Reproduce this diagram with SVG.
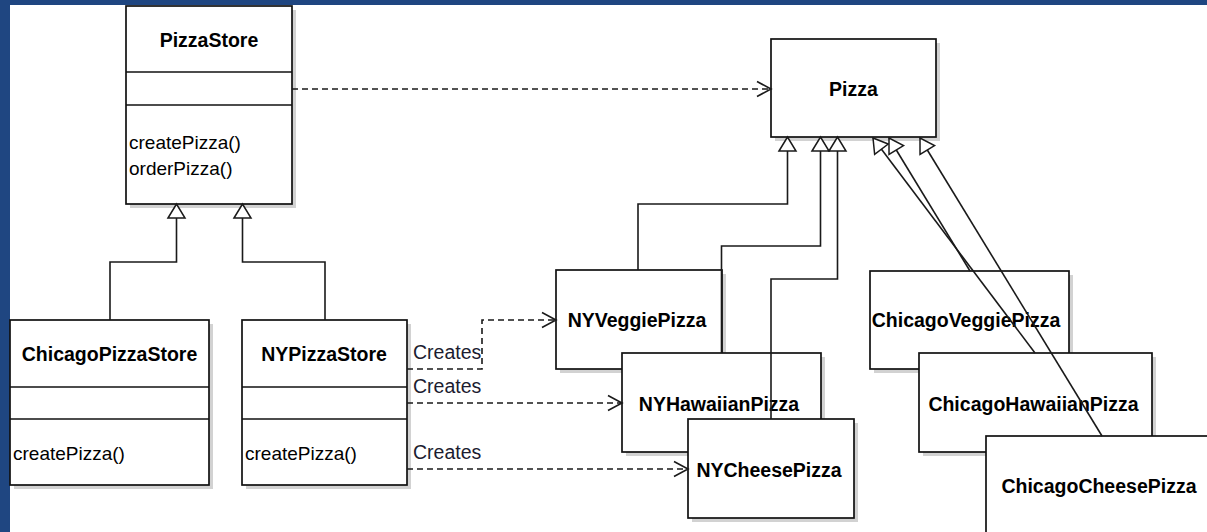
<svg xmlns="http://www.w3.org/2000/svg" width="1207" height="532" viewBox="0 0 1207 532">
  <defs>
    <style>
      .frame{fill:#1f4681}
      .shadow{fill:#d2d2d2}
      .box{fill:#fff;stroke:#111;stroke-width:1.7}
      .sep{stroke:#111;stroke-width:1.7}
      .title{font-family:"Liberation Sans",Arial,sans-serif;font-weight:bold;font-size:19.5px;fill:#000;text-anchor:middle}
      .member{font-family:"Liberation Sans",Arial,sans-serif;font-size:19px;fill:#000}
      .label{font-family:"Liberation Sans",Arial,sans-serif;font-size:19.5px;fill:#1c1c30}
      .edge{fill:none;stroke:#1a1a1a;stroke-width:1.6}
      .dep{stroke-dasharray:6 4}
    </style>
    <!-- hollow triangle for generalization -->
    <marker id="gen" markerUnits="userSpaceOnUse" viewBox="-1 -1 16 19" markerWidth="16" markerHeight="19" refX="14" refY="8.5" orient="auto" overflow="visible">
      <path d="M0,0 L14,8.5 L0,17 Z" fill="#fff" stroke="#1a1a1a" stroke-width="1.5"/>
    </marker>
    <!-- open arrowhead for dependency -->
    <marker id="open" markerUnits="userSpaceOnUse" viewBox="-2 -2 18 19" markerWidth="18" markerHeight="19" refX="14" refY="7.5" orient="auto" overflow="visible">
      <path d="M0,0 L14,7.5 L0,15" fill="none" stroke="#1a1a1a" stroke-width="1.6"/>
    </marker>
  </defs>

  <rect width="1207" height="532" fill="#fff"/>
  <rect class="frame" x="0" y="0" width="1207" height="5"/>
  <rect class="frame" x="0" y="0" width="10" height="532"/>

  <g id="PizzaStore">
    <rect class="shadow" x="130" y="10" width="166" height="198"/>
    <rect class="box" x="126" y="6" width="166" height="198"/>
    <line class="sep" x1="126" y1="72" x2="292" y2="72"/>
    <line class="sep" x1="126" y1="105" x2="292" y2="105"/>
    <text class="title" x="209" y="47">PizzaStore</text>
    <text class="member" x="129" y="149">createPizza()</text>
    <text class="member" x="129" y="175">orderPizza()</text>
  </g>

  <g id="ChicagoPizzaStore">
    <rect class="shadow" x="14" y="324" width="199" height="165"/>
    <rect class="box" x="10" y="320" width="199" height="165"/>
    <line class="sep" x1="10" y1="387" x2="209" y2="387"/>
    <line class="sep" x1="10" y1="419" x2="209" y2="419"/>
    <text class="title" x="109.5" y="361">ChicagoPizzaStore</text>
    <text class="member" x="13" y="460">createPizza()</text>
  </g>

  <g id="NYPizzaStore">
    <rect class="shadow" x="246" y="324" width="165" height="165"/>
    <rect class="box" x="242" y="320" width="165" height="165"/>
    <line class="sep" x1="242" y1="387" x2="407" y2="387"/>
    <line class="sep" x1="242" y1="419" x2="407" y2="419"/>
    <text class="title" x="324" y="361">NYPizzaStore</text>
    <text class="member" x="245" y="460">createPizza()</text>
  </g>

  <g id="Pizza">
    <rect class="shadow" x="775" y="43" width="165" height="98"/>
    <rect class="box" x="771" y="39" width="165" height="98"/>
    <text class="title" x="853.5" y="96">Pizza</text>
  </g>

  <g id="NYVeggiePizza">
    <rect class="shadow" x="560" y="274" width="166" height="99"/>
    <rect class="box" x="556" y="270" width="166" height="99"/>
    <text class="title" x="637" y="327">NYVeggiePizza</text>
  </g>

  <g id="NYHawaiianPizza">
    <rect class="shadow" x="626" y="357" width="199" height="99"/>
    <rect class="box" x="622" y="353" width="199" height="99"/>
    <text class="title" x="719" y="410.5">NYHawaiianPizza</text>
  </g>

  <g id="NYCheesePizza">
    <rect class="shadow" x="692" y="423" width="166" height="99"/>
    <rect class="box" x="688" y="419" width="166" height="99"/>
    <text class="title" x="769" y="476.5">NYCheesePizza</text>
  </g>

  <g id="ChicagoVeggiePizza">
    <rect class="shadow" x="874" y="275" width="199" height="98"/>
    <rect class="box" x="870" y="271" width="199" height="98"/>
    <text class="title" x="966" y="327">ChicagoVeggiePizza</text>
  </g>

  <g id="ChicagoHawaiianPizza">
    <rect class="shadow" x="923" y="357" width="233" height="99"/>
    <rect class="box" x="919" y="353" width="233" height="99"/>
    <text class="title" x="1033.5" y="410.5">ChicagoHawaiianPizza</text>
  </g>

  <g id="ChicagoCheesePizza">
    <rect class="shadow" x="990" y="440" width="226" height="99"/>
    <rect class="box" x="986" y="436" width="226" height="99"/>
    <text class="title" x="1099" y="493">ChicagoCheesePizza</text>
  </g>

  <g id="connectors">
    <!-- store hierarchy -->
    <path class="edge" d="M110,320 V262 H176.5 V204" marker-end="url(#gen)"/>
    <path class="edge" d="M325,320 V262 H242.5 V204" marker-end="url(#gen)"/>

    <!-- store uses pizza -->
    <path class="edge dep" d="M292,89 H771" marker-end="url(#open)"/>

    <!-- NY pizzas to Pizza -->
    <path class="edge" d="M638,270 V204 H787.5 V137" marker-end="url(#gen)"/>
    <path class="edge" d="M721.5,353 V246 H820.5 V137" marker-end="url(#gen)"/>
    <path class="edge" d="M771,419 V279 H837.5 V137" marker-end="url(#gen)"/>

    <!-- Chicago pizzas to Pizza -->
    <path class="edge" d="M1035,353 L873,138" marker-end="url(#gen)"/>
    <path class="edge" d="M970,271 L889,138" marker-end="url(#gen)"/>
    <path class="edge" d="M1102,436 L920,138" marker-end="url(#gen)"/>

    <!-- creates -->
    <path class="edge dep" d="M407,369 H482 V320 H556" marker-end="url(#open)"/>
    <path class="edge dep" d="M407,403 H622" marker-end="url(#open)"/>
    <path class="edge dep" d="M407,469 H688" marker-end="url(#open)"/>
    <text class="label" x="413" y="359">Creates</text>
    <text class="label" x="413" y="392.5">Creates</text>
    <text class="label" x="413" y="459">Creates</text>
  </g>
</svg>
